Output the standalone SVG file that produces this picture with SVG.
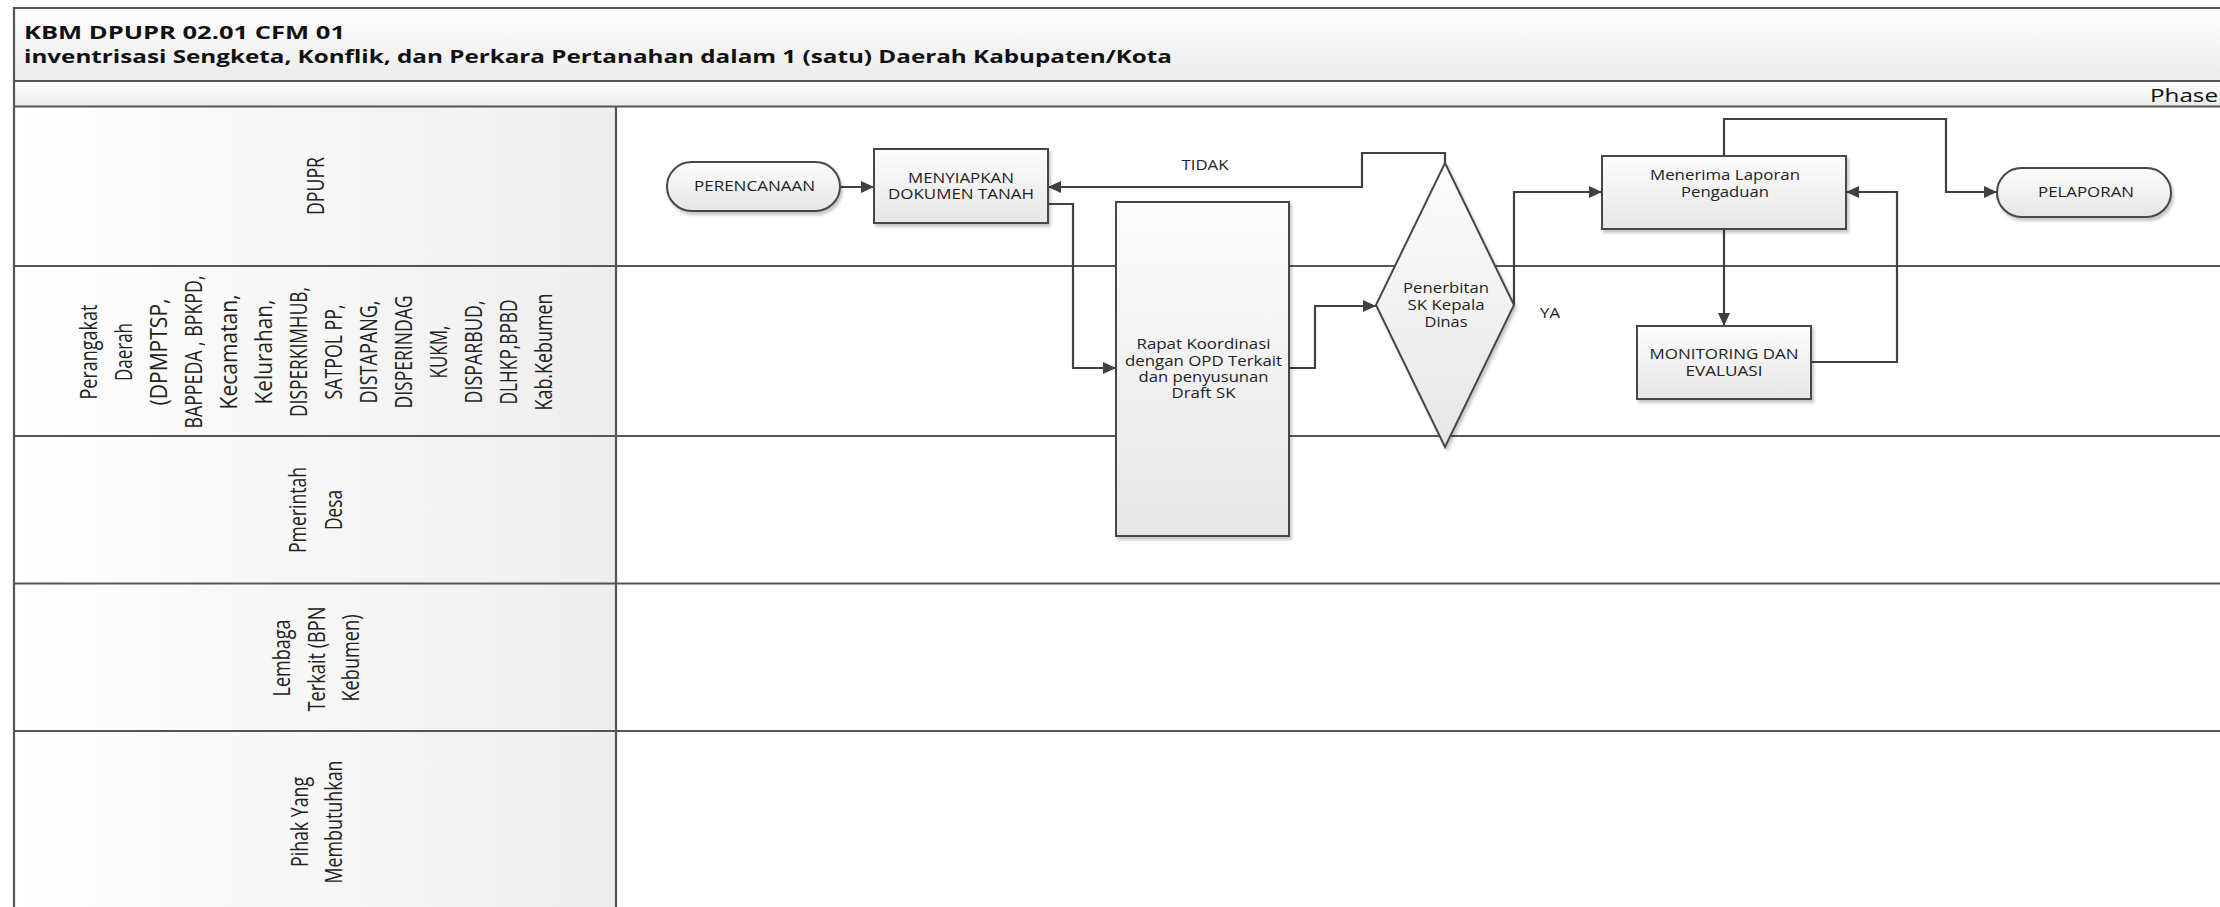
<svg xmlns="http://www.w3.org/2000/svg" width="2220" height="907" viewBox="0 0 2220 907">
<defs>
  <linearGradient id="gNode" x1="0" y1="0" x2="0" y2="1">
    <stop offset="0" stop-color="#fdfdfd"/>
    <stop offset="1" stop-color="#e6e6e6"/>
  </linearGradient>
  <linearGradient id="gHead" x1="0" y1="0" x2="1" y2="0">
    <stop offset="0" stop-color="#ffffff"/>
    <stop offset="1" stop-color="#eeeeee"/>
  </linearGradient>
  <linearGradient id="gBar" x1="0" y1="0" x2="0" y2="1">
    <stop offset="0" stop-color="#ffffff"/>
    <stop offset="1" stop-color="#ebebeb"/>
  </linearGradient>
  <filter id="sh" x="-10%" y="-10%" width="130%" height="130%">
    <feDropShadow dx="2" dy="3" stdDeviation="1.5" flood-color="#000000" flood-opacity="0.22"/>
  </filter>
  <marker id="arr" markerUnits="userSpaceOnUse" markerWidth="14" markerHeight="12" refX="13" refY="6" orient="auto">
    <path d="M0,0 L13,6 L0,12 z" fill="#404040"/>
  </marker>
  <style>
    .frame{fill:none;stroke:#555555;stroke-width:2.2}
    .lane{stroke:#555555;stroke-width:2.2;fill:none}
    .node{fill:url(#gNode);stroke:#474747;stroke-width:2;filter:url(#sh)}
    .conn{fill:none;stroke:#404040;stroke-width:2.2}
    .ca{marker-end:url(#arr)}
    .t{font-family:"Open Sans","Liberation Sans",sans-serif;font-size:14px;fill:#222222;text-anchor:middle}
    .title{font-family:"Open Sans","Liberation Sans",sans-serif;font-size:18px;font-weight:bold;fill:#111111}
    .phase{font-family:"Open Sans","Liberation Sans",sans-serif;font-size:18.5px;fill:#111111;text-anchor:end}
    .lbl{font-family:"Open Sans","Liberation Sans",sans-serif;font-size:17px;fill:#222222;text-anchor:middle}
  </style>
</defs>

<rect x="0" y="0" width="2220" height="907" fill="#ffffff"/>

<g id="pool">
  <rect x="14" y="8" width="2220" height="73" fill="url(#gBar)"/>
  <rect x="14" y="81" width="2220" height="25.5" fill="url(#gBar)"/>
  <rect x="14" y="106.5" width="602" height="810" fill="url(#gHead)"/>
  <path class="frame" d="M2230,8 H14 V920"/>
  <path class="lane" d="M14,81 H2230 M14,106.5 H2230 M14,266 H2230 M14,436 H2230 M14,583.5 H2230 M14,731 H2230 M616,106.5 V920"/>
  <text class="title" x="24" y="38.5" textLength="321" lengthAdjust="spacingAndGlyphs">KBM DPUPR 02.01 CFM 01</text>
  <text class="title" x="24" y="63" textLength="1148" lengthAdjust="spacingAndGlyphs">inventrisasi Sengketa, Konflik, dan Perkara Pertanahan dalam 1 (satu) Daerah Kabupaten/Kota</text>
  <text class="phase" x="2218" y="101.7" textLength="68" lengthAdjust="spacingAndGlyphs">Phase</text>
</g>

<g id="lane-dpupr">
  <text class="lbl" transform="translate(324,186) scale(1.4,1) rotate(-90)" textLength="58" lengthAdjust="spacingAndGlyphs">DPUPR</text>
</g>

<g id="lane-perangkat">
  <text class="lbl" transform="translate(97,352) scale(1.4,1) rotate(-90)" textLength="95" lengthAdjust="spacingAndGlyphs">Perangakat</text>
  <text class="lbl" transform="translate(132,352) scale(1.4,1) rotate(-90)" textLength="58" lengthAdjust="spacingAndGlyphs">Daerah</text>
  <text class="lbl" transform="translate(167,352) scale(1.4,1) rotate(-90)" textLength="107" lengthAdjust="spacingAndGlyphs">(DPMPTSP,</text>
  <text class="lbl" transform="translate(202,352) scale(1.4,1) rotate(-90)" textLength="153" lengthAdjust="spacingAndGlyphs">BAPPEDA , BPKPD,</text>
  <text class="lbl" transform="translate(237,352) scale(1.4,1) rotate(-90)" textLength="115" lengthAdjust="spacingAndGlyphs">Kecamatan,</text>
  <text class="lbl" transform="translate(272,352) scale(1.4,1) rotate(-90)" textLength="105" lengthAdjust="spacingAndGlyphs">Kelurahan,</text>
  <text class="lbl" transform="translate(307,352) scale(1.4,1) rotate(-90)" textLength="130" lengthAdjust="spacingAndGlyphs">DISPERKIMHUB,</text>
  <text class="lbl" transform="translate(342,352) scale(1.4,1) rotate(-90)" textLength="95" lengthAdjust="spacingAndGlyphs">SATPOL PP,</text>
  <text class="lbl" transform="translate(377,352) scale(1.4,1) rotate(-90)" textLength="103" lengthAdjust="spacingAndGlyphs">DISTAPANG,</text>
  <text class="lbl" transform="translate(412,352) scale(1.4,1) rotate(-90)" textLength="113" lengthAdjust="spacingAndGlyphs">DISPERINDAG</text>
  <text class="lbl" transform="translate(447,352) scale(1.4,1) rotate(-90)" textLength="53" lengthAdjust="spacingAndGlyphs">KUKM,</text>
  <text class="lbl" transform="translate(482,352) scale(1.4,1) rotate(-90)" textLength="103" lengthAdjust="spacingAndGlyphs">DISPARBUD,</text>
  <text class="lbl" transform="translate(517,352) scale(1.4,1) rotate(-90)" textLength="105" lengthAdjust="spacingAndGlyphs">DLHKP,BPBD</text>
  <text class="lbl" transform="translate(552,352) scale(1.4,1) rotate(-90)" textLength="117" lengthAdjust="spacingAndGlyphs">Kab.Kebumen</text>
</g>

<g id="lane-desa">
  <text class="lbl" transform="translate(306,510) scale(1.4,1) rotate(-90)" textLength="86" lengthAdjust="spacingAndGlyphs">Pmerintah</text>
  <text class="lbl" transform="translate(342,510) scale(1.4,1) rotate(-90)" textLength="40" lengthAdjust="spacingAndGlyphs">Desa</text>
</g>

<g id="lane-lembaga">
  <text class="lbl" transform="translate(290,658) scale(1.4,1) rotate(-90)" textLength="77" lengthAdjust="spacingAndGlyphs">Lembaga</text>
  <text class="lbl" transform="translate(325,659) scale(1.4,1) rotate(-90)" textLength="105" lengthAdjust="spacingAndGlyphs">Terkait (BPN</text>
  <text class="lbl" transform="translate(359,658) scale(1.4,1) rotate(-90)" textLength="87" lengthAdjust="spacingAndGlyphs">Kebumen)</text>
</g>

<g id="lane-pihak">
  <text class="lbl" transform="translate(308,822) scale(1.4,1) rotate(-90)" textLength="90" lengthAdjust="spacingAndGlyphs">Pihak Yang</text>
  <text class="lbl" transform="translate(342,822) scale(1.4,1) rotate(-90)" textLength="123" lengthAdjust="spacingAndGlyphs">Membutuhkan</text>
</g>

<g id="connectors">
  <path class="conn ca" d="M840,187 H874"/>
  <path class="conn ca" d="M1445,163 V153 H1362 V187 H1048"/>
  <path class="conn ca" d="M1048,204 H1073 V368 H1116"/>
  <path class="conn ca" d="M1289,368 H1315 V306 H1376"/>
  <path class="conn ca" d="M1514,305 V192 H1602"/>
  <path class="conn ca" d="M1724,229 V326"/>
  <path class="conn ca" d="M1811,362 H1897 V192 H1846"/>
  <path class="conn ca" d="M1724,156 V119 H1946 V192 H1997"/>
  <text class="t" x="1205" y="170" textLength="47" lengthAdjust="spacingAndGlyphs">TIDAK</text>
  <text class="t" x="1550" y="318.3" textLength="20" lengthAdjust="spacingAndGlyphs">YA</text>
</g>

<g id="n-perencanaan">
  <rect class="node" x="667" y="162" width="173" height="49" rx="24.5" ry="24.5"/>
  <text class="t" x="754.5" y="191" textLength="121" lengthAdjust="spacingAndGlyphs">PERENCANAAN</text>
</g>

<g id="n-menyiapkan">
  <rect class="node" x="874" y="149" width="174" height="74"/>
  <text class="t" x="961" y="182.7" textLength="106" lengthAdjust="spacingAndGlyphs">MENYIAPKAN</text>
  <text class="t" x="961" y="199.3" textLength="146" lengthAdjust="spacingAndGlyphs">DOKUMEN TANAH</text>
</g>

<g id="n-rapat">
  <rect class="node" x="1116" y="202" width="173" height="334"/>
  <text class="t" x="1203.5" y="349.3" textLength="134" lengthAdjust="spacingAndGlyphs">Rapat Koordinasi</text>
  <text class="t" x="1203.5" y="365.7" textLength="157" lengthAdjust="spacingAndGlyphs">dengan OPD Terkait</text>
  <text class="t" x="1203.5" y="382" textLength="130" lengthAdjust="spacingAndGlyphs">dan penyusunan</text>
  <text class="t" x="1203.5" y="398.3" textLength="64" lengthAdjust="spacingAndGlyphs">Draft SK</text>
</g>

<g id="n-penerbitan">
  <path class="node" d="M1445,163 L1514,305 L1445,447 L1376,305 Z"/>
  <text class="t" x="1446" y="293.3" textLength="86" lengthAdjust="spacingAndGlyphs">Penerbitan</text>
  <text class="t" x="1446" y="310" textLength="77" lengthAdjust="spacingAndGlyphs">SK Kepala</text>
  <text class="t" x="1446" y="326.7" textLength="43" lengthAdjust="spacingAndGlyphs">Dinas</text>
</g>

<g id="n-menerima">
  <rect class="node" x="1602" y="156" width="244" height="73"/>
  <text class="t" x="1725" y="180" textLength="150" lengthAdjust="spacingAndGlyphs">Menerima Laporan</text>
  <text class="t" x="1725" y="196.7" textLength="88" lengthAdjust="spacingAndGlyphs">Pengaduan</text>
</g>

<g id="n-monitoring">
  <rect class="node" x="1637" y="326" width="174" height="73"/>
  <text class="t" x="1724" y="359.3" textLength="149" lengthAdjust="spacingAndGlyphs">MONITORING DAN</text>
  <text class="t" x="1724" y="376" textLength="77" lengthAdjust="spacingAndGlyphs">EVALUASI</text>
</g>

<g id="n-pelaporan">
  <rect class="node" x="1997" y="168" width="174" height="49" rx="24.5" ry="24.5"/>
  <text class="t" x="2086" y="196.7" textLength="96" lengthAdjust="spacingAndGlyphs">PELAPORAN</text>
</g>
</svg>
